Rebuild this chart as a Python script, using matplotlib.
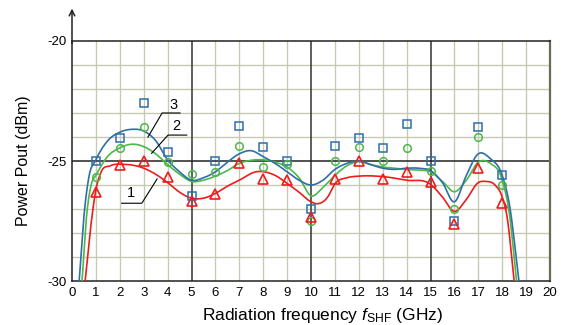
import numpy as np
import matplotlib
matplotlib.use('Agg')
import matplotlib.pyplot as plt

plt.rcParams['font.family'] = ['Liberation Sans', 'DejaVu Sans']
plt.rcParams['mathtext.fontset'] = 'custom'
plt.rcParams['mathtext.rm'] = 'Liberation Sans'
plt.rcParams['mathtext.it'] = 'Liberation Sans:italic'
plt.rcParams['axes.unicode_minus'] = False

# measured points (GHz, dBm)
freq = [1, 2, 3, 4, 5, 6, 7, 8, 9, 10, 11, 12, 13, 14, 15, 16, 17, 18]
p3 = [-25.0, -24.03, -22.58, -24.63, -26.45, -25.0, -23.55, -24.4, -25.0,
      -27.0, -24.39, -24.03, -24.45, -23.45, -25.0, -27.5, -23.58, -25.57]
p2 = [-25.68, -24.44, -23.6, -25.03, -25.54, -25.44, -24.38, -25.26, -25.13,
      -27.49, -25.0, -24.42, -25.0, -24.46, -25.42, -27.0, -24.01, -26.0]
p1 = [-26.3, -25.18, -25.0, -25.68, -26.65, -26.36, -25.07, -25.74, -25.8,
      -27.32, -25.75, -25.0, -25.75, -25.47, -25.88, -27.62, -25.28, -26.75]

# fitted curves
c3_f = [0.3, 0.5, 0.7, 1.0, 1.5, 2.0, 2.5, 3.0, 3.5, 4.0, 4.5, 5.0, 5.5, 6.0,
        6.5, 7.0, 7.5, 8.0, 8.5, 9.0, 9.5, 10.0, 10.5, 11.0, 11.5, 12.0, 12.5,
        13.0, 13.5, 14.0, 14.5, 15.0, 15.5, 16.0, 16.5, 17.0, 17.5, 18.0, 18.3, 18.7]
c3_p = [-30.0, -27.3, -25.7, -24.95, -24.15, -23.8, -23.68, -23.75, -24.15,
        -24.95, -25.45, -25.8, -25.7, -25.45, -25.05, -24.7, -24.57, -24.82,
        -25.1, -25.45, -25.8, -26.0, -25.8, -25.35, -25.1, -25.0, -25.15,
        -25.3, -25.35, -25.3, -25.3, -25.4, -25.9, -26.7, -25.6, -24.7,
        -24.9, -25.6, -26.8, -30.0]
c2_f = [0.42, 0.6, 0.8, 1.0, 1.5, 2.0, 2.6, 3.0, 3.5, 4.0, 4.5, 5.0, 5.5, 6.0,
        6.5, 7.0, 7.5, 8.0, 8.5, 9.0, 9.5, 10.0, 10.5, 11.0, 11.5, 12.0, 12.5,
        13.0, 13.5, 14.0, 14.5, 15.0, 15.5, 16.0, 16.5, 17.0, 17.5, 18.0, 18.3, 18.6]
c2_p = [-30.0, -27.4, -26.0, -25.6, -24.8, -24.45, -24.3, -24.4, -24.7,
        -25.15, -25.55, -25.85, -25.8, -25.63, -25.4, -25.1, -24.97, -24.95,
        -25.05, -25.25, -25.7, -26.45, -26.1, -25.6, -25.2, -25.03, -25.15,
        -25.25, -25.3, -25.35, -25.38, -25.45, -25.85, -26.28, -25.8, -25.05,
        -25.1, -25.8, -27.2, -30.0]
c1_f = [0.55, 0.8, 1.0, 1.2, 1.6, 2.2, 3.0, 3.5, 4.0, 4.5, 5.0, 5.5, 6.0, 6.5,
        7.0, 7.7, 8.5, 9.0, 9.5, 10.0, 10.3, 10.7, 11.0, 11.5, 12.0, 13.0,
        14.0, 15.0, 15.5, 16.0, 16.5, 17.0, 17.3, 17.7, 18.0, 18.2, 18.5]
c1_p = [-30.0, -27.6, -26.2, -25.5, -25.2, -25.14, -25.3, -25.55, -25.9,
        -26.3, -26.55, -26.55, -26.35, -26.05, -25.8, -25.45, -25.6, -25.93,
        -26.3, -26.7, -26.78, -26.5, -25.95, -25.7, -25.63, -25.65, -25.8,
        -25.97, -26.5, -27.1, -26.6, -25.9, -25.85, -26.0, -26.5, -27.3, -30.0]

blue = '#2f6ea8'
green = '#4cb84a'
red = '#ee1c1c'


def smooth(xk, yk, n=12):
    # cubic hermite through the nodes, finite-difference tangents
    xk = np.asarray(xk, float)
    yk = np.asarray(yk, float)
    m = np.gradient(yk, xk)
    xs, ys = [], []
    for i in range(len(xk) - 1):
        h = xk[i + 1] - xk[i]
        t = np.linspace(0, 1, n, endpoint=False)
        h00 = 2 * t**3 - 3 * t**2 + 1
        h10 = t**3 - 2 * t**2 + t
        h01 = -2 * t**3 + 3 * t**2
        h11 = t**3 - t**2
        xs.append(xk[i] + t * h)
        ys.append(h00 * yk[i] + h10 * h * m[i] + h01 * yk[i + 1] + h11 * h * m[i + 1])
    xs.append([xk[-1]])
    ys.append([yk[-1]])
    return np.concatenate(xs), np.concatenate(ys)


fig = plt.figure(figsize=(5.74, 3.25), dpi=100)
ax = fig.add_axes([72 / 574, 1 - 281 / 325, 478 / 574, 240 / 325])
ax.set_xlim(0, 20)
ax.set_ylim(-30, -20)

gc = '#c8c8b4'
for x in range(1, 20):
    if x % 5:
        ax.axvline(x, color=gc, lw=1.0, zorder=0)
for y in range(-29, -20):
    if y != -25:
        ax.axhline(y, color=gc, lw=1.0, zorder=0)
for x in (5, 10, 15):
    ax.axvline(x, color='#333333', lw=1.1, zorder=0.5)
ax.axhline(-25, color='#222222', lw=1.1, zorder=0.5)

for s in ('top', 'bottom', 'left'):
    ax.spines[s].set_color('#222222')
    ax.spines[s].set_linewidth(1.1)
ax.spines['right'].set_color('#6b6b58')
ax.spines['right'].set_linewidth(1.6)

for cf, cp, col in ((c1_f, c1_p, red), (c2_f, c2_p, green), (c3_f, c3_p, blue)):
    sx, sy = smooth(cf, cp)
    ax.plot(sx, sy, color=col, lw=1.2, zorder=3)

ax.plot(freq, p3, ls='none', marker='s', ms=5.5, mfc='none', mec=blue, mew=1.1, zorder=4)
ax.plot(freq, p2, ls='none', marker='o', ms=5.5, mfc='none', mec=green, mew=1.1, zorder=4)
ax.plot(freq, p1, ls='none', marker='^', ms=6.5, mfc='none', mec=red, mew=1.2, zorder=5)

# curve labels with leader lines
kw = dict(color='black', lw=0.8, zorder=6)
ax.plot([3.18, 3.77, 4.52], [-24.0, -23.0, -23.0], **kw)
ax.text(4.25, -22.67, '3', ha='center', va='center', fontsize=10.5)
ax.plot([3.33, 4.02, 4.8], [-24.68, -23.92, -23.92], **kw)
ax.text(4.38, -23.54, '2', ha='center', va='center', fontsize=10.5)
ax.plot([3.56, 2.92, 2.08], [-25.75, -26.76, -26.76], **kw)
ax.text(2.45, -26.35, '1', ha='center', va='center', fontsize=10.5)

# y axis arrow
ax.annotate('', xy=(0, 1.135), xytext=(0, 0.99), xycoords='axes fraction',
            arrowprops=dict(arrowstyle='->', color='#222222', lw=1.1,
                            mutation_scale=10, shrinkA=0, shrinkB=0))

ax.set_xticks(range(0, 21))
ax.set_yticks([-30, -25, -20])
ax.tick_params(length=0, labelsize=9.5, pad=4)
ax.set_xlabel(r'Radiation frequency $\mathit{f}_{\mathrm{SHF}}$ (GHz)', fontsize=12.5)
ax.xaxis.set_label_coords(0.525, -0.105)
ax.set_ylabel('Power Pout (dBm)', fontsize=11.5, labelpad=12)

fig.savefig('out.png', dpi=100)
